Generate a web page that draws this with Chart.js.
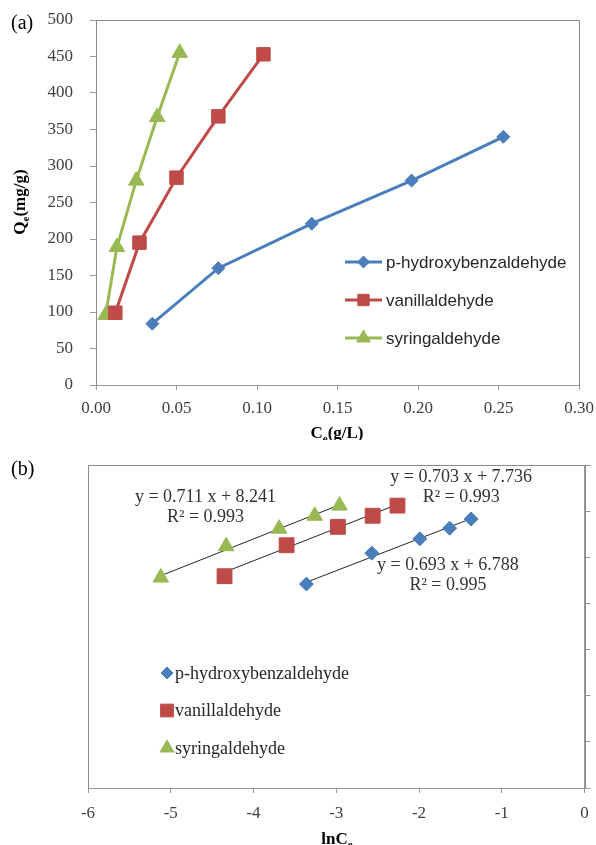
<!DOCTYPE html>
<html>
<head>
<meta charset="utf-8">
<script src="https://cdn.jsdelivr.net/npm/chart.js@4.4.1/dist/chart.umd.min.js"></script>
<style>
  html, body { margin: 0; padding: 0; background: #fff; }
  #wrap { position: relative; width: 596px; height: 845px; overflow: hidden; }
  canvas { position: absolute; left: 0; }
  #chartA { top: 0; }
  #chartB { top: 440px; }
</style>
</head>
<body>
<div id="wrap">
  <canvas id="chartA" width="596" height="440"></canvas>
  <canvas id="chartB" width="596" height="405"></canvas>
</div>
<script>
const SERIES_NAMES = ["p-hydroxybenzaldehyde", "vanillaldehyde", "syringaldehyde"];
const SERIES_COLORS = ["#4A7EBB", "#BE4B48", "#98B954"];
const SERIES_MARKERS = ["rectRot", "rect", "triangle"];

// (a) Ce (g/L) vs Qe (mg/g)
const ceHydroxy = [0.035, 0.076, 0.134, 0.196, 0.253];
const qeHydroxy = [84, 160, 221, 280, 340];
const ceVanill = [0.012, 0.027, 0.050, 0.076, 0.104];
const qeVanill = [99, 195, 284, 368, 453];
const ceSyring = [0.006, 0.013, 0.025, 0.038, 0.052];
const qeSyring = [96, 189, 280, 367, 455];
const ceTicks = [0, 0.05, 0.10, 0.15, 0.20, 0.25, 0.30];
const qeTicks = [0, 50, 100, 150, 200, 250, 300, 350, 400, 450, 500];

// (b) lnCe vs lnQe
const lnCeHydroxy = [-3.36, -2.57, -1.99, -1.63, -1.37];
const lnQeHydroxy = [4.42, 5.09, 5.40, 5.63, 5.83];
const lnCeVanill = [-4.35, -3.60, -2.98, -2.56, -2.26];
const lnQeVanill = [4.59, 5.26, 5.66, 5.90, 6.12];
const lnCeSyring = [-5.12, -4.33, -3.69, -3.26, -2.96];
const lnQeSyring = [4.56, 5.24, 5.62, 5.90, 6.12];
const lnCeTicks = [-6, -5, -4, -3, -2, -1, 0];
const lnQeTicks = [0, 1, 2, 3, 4, 5, 6, 7];

// trendlines as printed on the chart
const fitSlopes = [0.693, 0.703, 0.711];
const fitIntercepts = [6.788, 7.736, 8.241];
const fitR2 = [0.995, 0.993, 0.993];
const fitLabelAt = [[-1.65, 4.83], [-1.49, 6.74], [-4.58, 6.31]];

const SERIF = '"Liberation Serif", "Times New Roman", serif';
const SANS = '"Liberation Sans", Arial, sans-serif';
const AXIS_GRAY = "#9a9a9a";
const TICK_INK = "#404040";

function pts(xs, ys) {
  return xs.map((x, i) => ({ x, y: ys[i] }));
}

function fixedTicks(values) {
  return (scale) => {
    scale.ticks = values.map((value) => ({ value }));
  };
}

// no label overhang, so layout padding alone sets the plot box
function noOverhang(scale) {
  scale.paddingLeft = 0;
  scale.paddingRight = 0;
  scale.paddingTop = 0;
  scale.paddingBottom = 0;
}

function drawRich(ctx, item) {
  ctx.save();
  ctx.translate(item.x, item.y);
  if (item.rotate) ctx.rotate(item.rotate);
  const weight = item.bold ? "bold " : "";
  const base = `${weight}${item.size}px ${SERIF}`;
  const small = `${weight}${Math.round(item.size * 0.62)}px ${SERIF}`;
  let total = 0;
  item.parts.forEach(([t, sub]) => {
    ctx.font = sub ? small : base;
    total += ctx.measureText(t).width;
  });
  let cx = item.align === "left" ? 0 : -total / 2;
  ctx.textAlign = "left";
  ctx.textBaseline = "middle";
  ctx.fillStyle = item.color || "#000";
  item.parts.forEach(([t, sub]) => {
    ctx.font = sub ? small : base;
    ctx.fillText(t, cx, sub ? item.size * 0.3 : 0);
    cx += ctx.measureText(t).width;
  });
  ctx.restore();
}

const panelText = {
  id: "panelText",
  afterDraw(chart, args, opts) {
    (opts.items || []).forEach((item) => drawRich(chart.ctx, item));
  },
};

const plotFrame = {
  id: "plotFrame",
  beforeDatasetsDraw(chart, args, opts) {
    const { left, top, right, bottom } = chart.chartArea;
    const ctx = chart.ctx;
    ctx.save();
    ctx.strokeStyle = opts.color || "#888";
    ctx.lineWidth = 1;
    ctx.beginPath();
    ctx.moveTo(Math.round(left) + 0.5, Math.round(top) + 0.5);
    ctx.lineTo(Math.round(right) + 0.5, Math.round(top) + 0.5);
    ctx.lineTo(Math.round(right) + 0.5, Math.round(bottom) + 0.5);
    ctx.moveTo(Math.round(left) + 0.5, Math.round(top) + 0.5);
    ctx.lineTo(Math.round(left) + 0.5, Math.round(bottom) + 0.5);
    ctx.stroke();
    ctx.restore();
  },
};

const innerLegend = {
  id: "innerLegend",
  afterDraw(chart, args, opts) {
    const ctx = chart.ctx;
    ctx.save();
    SERIES_NAMES.forEach((name, i) => {
      const ds = chart.data.datasets[i];
      const y = opts.y + i * opts.rowGap;
      let tx = opts.x;
      if (opts.lineLen) {
        ctx.strokeStyle = ds.borderColor;
        ctx.lineWidth = ds.borderWidth;
        ctx.beginPath();
        ctx.moveTo(opts.x, y);
        ctx.lineTo(opts.x + opts.lineLen, y);
        ctx.stroke();
        tx = opts.x + opts.lineLen / 2;
      }
      ctx.fillStyle = ds.pointBackgroundColor;
      ctx.strokeStyle = ds.pointBackgroundColor;
      ctx.lineWidth = 1;
      Chart.helpers.drawPoint(ctx, {
        pointStyle: ds.pointStyle,
        radius: opts.markerRadius[i],
        rotation: 0,
        borderWidth: 1,
      }, tx, y);
      ctx.fillStyle = opts.color;
      ctx.font = opts.font;
      ctx.textAlign = "left";
      ctx.textBaseline = "middle";
      ctx.fillText(name, opts.textX, y + 1);
    });
    ctx.restore();
  },
};

const fitLabels = {
  id: "fitLabels",
  afterDraw(chart) {
    const xs = chart.scales.x;
    const ys = chart.scales.y;
    fitLabelAt.forEach(([lx, ly], i) => {
      const px = xs.getPixelForValue(lx);
      const py = ys.getPixelForValue(ly);
      drawRich(chart.ctx, {
        parts: [[`y = ${fitSlopes[i].toFixed(3)} x + ${fitIntercepts[i].toFixed(3)}`, false]],
        x: px, y: py, size: 18, color: "#333",
      });
      drawRich(chart.ctx, {
        parts: [[`R² = ${fitR2[i].toFixed(3)}`, false]],
        x: px, y: py + 20, size: 18, color: "#333",
      });
    });
  },
};

function axisTickFont() {
  return { family: SERIF, size: 17 };
}

// ---------- chart (a)
const markerA = [6.5, 9.5, 9];
const dataA = [pts(ceHydroxy, qeHydroxy), pts(ceVanill, qeVanill), pts(ceSyring, qeSyring)];

new Chart(document.getElementById("chartA"), {
  type: "scatter",
  data: {
    datasets: dataA.map((d, i) => ({
      label: SERIES_NAMES[i],
      data: d,
      showLine: true,
      borderColor: SERIES_COLORS[i],
      borderWidth: 3,
      pointStyle: SERIES_MARKERS[i],
      pointRadius: markerA[i],
      pointBackgroundColor: SERIES_COLORS[i],
      pointBorderColor: SERIES_COLORS[i],
      pointBorderWidth: 1,
    })),
  },
  options: {
    responsive: false,
    animation: false,
    devicePixelRatio: 1,
    layout: { padding: { top: 20, right: 17, left: 0, bottom: 0 } },
    plugins: {
      legend: { display: false },
      tooltip: { enabled: false },
      plotFrame: { color: "#8a8a8a" },
      innerLegend: {
        x: 345, y: 262, rowGap: 38, lineLen: 37, textX: 386,
        markerRadius: [6, 8, 8],
        font: `17px ${SANS}`, color: "#262626",
      },
      panelText: {
        items: [
          { parts: [["(a)", false]], x: 11, y: 24, size: 20, align: "left" },
          { parts: [["Q", false], ["e", true], ["(mg/g)", false]], x: 21, y: 202, size: 17, bold: true, rotate: -Math.PI / 2 },
          { parts: [["C", false], ["e", true], ["(g/L)", false]], x: 337, y: 434, size: 17, bold: true },
        ],
      },
    },
    scales: {
      x: {
        type: "linear",
        min: 0,
        max: 0.3,
        afterBuildTicks: fixedTicks(ceTicks),
        ticks: { color: TICK_INK, font: axisTickFont(), padding: 8, maxRotation: 0, callback: (v) => Number(v).toFixed(2) },
        grid: { drawOnChartArea: false, tickLength: 5, color: AXIS_GRAY },
        border: { color: AXIS_GRAY },
        afterFit(s) { s.height = 55; noOverhang(s); },
      },
      y: {
        min: 0,
        max: 500,
        afterBuildTicks: fixedTicks(qeTicks),
        ticks: { color: TICK_INK, font: axisTickFont(), padding: 17 },
        grid: { drawOnChartArea: false, tickLength: 6, color: AXIS_GRAY },
        border: { color: AXIS_GRAY },
        afterFit(s) { s.width = 96; noOverhang(s); },
      },
    },
  },
  plugins: [plotFrame, innerLegend, panelText],
});

// ---------- chart (b)
const markerB = [7, 10.5, 9];
const dataB = [pts(lnCeHydroxy, lnQeHydroxy), pts(lnCeVanill, lnQeVanill), pts(lnCeSyring, lnQeSyring)];
const fitRangeB = [lnCeHydroxy, lnCeVanill, lnCeSyring];

const pointSetsB = dataB.map((d, i) => ({
  label: SERIES_NAMES[i],
  data: d,
  showLine: false,
  borderColor: SERIES_COLORS[i],
  borderWidth: 0,
  pointStyle: SERIES_MARKERS[i],
  pointRadius: markerB[i],
  pointBackgroundColor: SERIES_COLORS[i],
  pointBorderColor: SERIES_COLORS[i],
  pointBorderWidth: 1,
}));

const trendSetsB = fitRangeB.map((xs, i) => {
  const x0 = xs[0];
  const x1 = xs[xs.length - 1];
  return {
    label: `fit ${SERIES_NAMES[i]}`,
    data: [
      { x: x0, y: fitSlopes[i] * x0 + fitIntercepts[i] },
      { x: x1, y: fitSlopes[i] * x1 + fitIntercepts[i] },
    ],
    showLine: true,
    borderColor: "#262626",
    borderWidth: 1,
    pointRadius: 0,
  };
});

new Chart(document.getElementById("chartB"), {
  type: "scatter",
  data: { datasets: [...pointSetsB, ...trendSetsB] },
  options: {
    responsive: false,
    animation: false,
    devicePixelRatio: 1,
    layout: { padding: { top: 25, right: 0, left: 88, bottom: 0 } },
    plugins: {
      legend: { display: false },
      tooltip: { enabled: false },
      plotFrame: { color: "#8a8a8a" },
      innerLegend: {
        x: 167, y: 233, rowGap: 37.5, lineLen: 0, textX: 175,
        markerRadius: [6, 9, 8],
        font: `18px ${SERIF}`, color: "#262626",
      },
      panelText: {
        items: [
          { parts: [["(b)", false]], x: 11, y: 30, size: 20, align: "left" },
          { parts: [["lnC", false], ["e", true]], x: 337, y: 400, size: 17, bold: true },
        ],
      },
    },
    scales: {
      x: {
        type: "linear",
        min: -6,
        max: 0,
        afterBuildTicks: fixedTicks(lnCeTicks),
        ticks: { color: TICK_INK, font: axisTickFont(), padding: 10, maxRotation: 0 },
        grid: { drawOnChartArea: false, tickLength: 5, color: AXIS_GRAY },
        border: { color: AXIS_GRAY },
        afterFit(s) { s.height = 57; noOverhang(s); },
      },
      y: {
        position: "right",
        min: 0,
        max: 7,
        afterBuildTicks: fixedTicks(lnQeTicks),
        ticks: { display: false },
        grid: { drawOnChartArea: false, tickLength: 6, color: AXIS_GRAY },
        border: { color: AXIS_GRAY },
        afterFit(s) { s.width = 11; noOverhang(s); },
      },
    },
  },
  plugins: [plotFrame, innerLegend, panelText, fitLabels],
});
</script>
</body>
</html>
